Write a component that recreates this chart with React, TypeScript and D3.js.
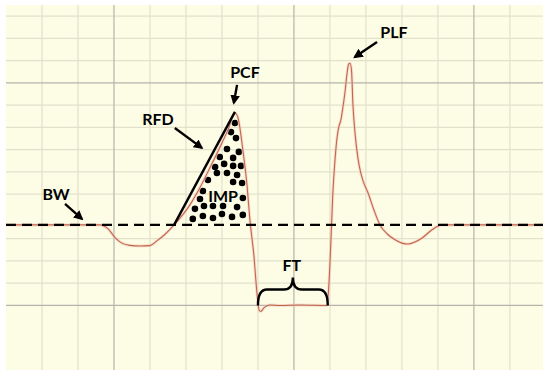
import React from 'react';
import * as d3 from 'd3';

// force-time trace, x in grid units (time), y in grid units (force)
const time = [0, 2.61, 2.83, 3.03, 3.22, 3.44, 3.72, 4.0, 4.19, 4.42, 4.67, 5.11, 5.39, 5.67, 5.94, 6.17, 6.36, 6.44, 6.58, 6.69, 6.78, 6.89, 6.97, 7.03, 7.08, 7.17, 7.33, 7.61, 8.17, 8.92, 8.97, 9.03, 9.08, 9.13, 9.19, 9.25, 9.3, 9.36, 9.42, 9.47, 9.52, 9.56, 9.6, 9.64, 9.7, 9.78, 9.85, 9.92, 10.06, 10.22, 10.39, 10.6, 10.81, 11.0, 11.17, 11.36, 11.56, 11.83, 12.11, 14.92];
const force = [3.62, 3.62, 3.45, 3.05, 2.8, 2.7, 2.67, 2.69, 2.9, 3.2, 3.62, 4.52, 5.3, 6.2, 7.1, 7.9, 8.65, 8.47, 7.0, 5.5, 3.8, 2.2, 0.6, -0.2, -0.27, -0.1, 0.02, 0, 0.02, 0, 0.9, 3.0, 5.0, 6.3, 7.43, 8.05, 8.3, 8.9, 9.6, 10.35, 10.85, 10.88, 10.55, 9.0, 7.7, 6.6, 6.0, 5.6, 5.05, 4.3, 3.62, 3.2, 2.95, 2.8, 2.76, 2.85, 3.03, 3.39, 3.62, 3.62];

const bodyWeight = 3.62;
const rfdLine = [[4.67, 3.62], [6.36, 8.7]];

// impulse dots
const dotX = [6.36, 6.25, 6.39, 6.14, 6.47, 5.94, 6.31, 5.81, 6.06, 6.31, 6.53, 5.61, 5.86, 6.14, 6.42, 6.31, 6.56, 5.47, 5.39, 6.58, 5.25, 5.5, 5.75, 6.03, 6.42, 5.19, 5.47, 5.75, 6.0, 6.28, 6.58];
const dotY = [8.2, 7.79, 7.52, 7.03, 6.9, 6.67, 6.63, 6.22, 6.36, 6.27, 6.27, 5.64, 5.95, 5.95, 5.86, 5.55, 5.5, 5.14, 4.78, 4.83, 4.34, 4.47, 4.47, 4.47, 4.42, 3.89, 4.02, 3.93, 4.11, 3.98, 4.07];

const vGrid = [1, 2, 3, 4, 5, 6, 7, 8, 9, 10, 11, 12, 13, 14];
const vMajor = [3, 8, 13];
const hGrid = [0, 1, 2, 3, 5, 6, 7, 8, 9, 10, 11, 12, 13];
const hMajor = [0, 10];

const labels = [
  { text: 'BW', x: 1.39, y: 5.05 },
  { text: 'RFD', x: 4.22, y: 8.38 },
  { text: 'PCF', x: 6.64, y: 10.53 },
  { text: 'PLF', x: 10.78, y: 12.33 },
  { text: 'IMP', x: 6.03, y: 4.92 },
  { text: 'FT', x: 7.94, y: 1.82 },
];
const arrows = [
  { from: [1.64, 4.56], to: [2.11, 3.89] },
  { from: [4.69, 7.97], to: [5.44, 7.08] },
  { from: [6.42, 9.91], to: [6.33, 9.1] },
  { from: [10.31, 11.84], to: [9.69, 11.16] },
];
const flight = { x1: 7.0, x2: 8.94, base: 0, top: 0.72, tip: 1.26 };

const W = 550;
const H = 376;

const App = () => {
  const x = d3.scaleLinear().domain([0, 14.92]).range([6, 543]);
  const y = d3.scaleLinear().domain([-2.9, 13.5]).range([370, 5]);

  const pts = time.map((t, i) => [t, force[i]] as [number, number]);
  const line = d3.line<[number, number]>().x(d => x(d[0])).y(d => y(d[1])).curve(d3.curveMonotoneX);

  // curly brace for flight time
  const bx1 = x(flight.x1), bx2 = x(flight.x2), bm = (bx1 + bx2) / 2;
  const by0 = y(flight.base), byT = y(flight.top), byTip = y(flight.tip);
  const r = 9;
  const brace = `M${bx1},${by0} Q${bx1},${byT} ${bx1 + r},${byT} L${bm - r},${byT} Q${bm},${byT} ${bm},${byTip} Q${bm},${byT} ${bm + r},${byT} L${bx2 - r},${byT} Q${bx2},${byT} ${bx2},${by0}`;

  return (
    <svg width={W} height={H} style={{ position: 'absolute', left: 0, top: 0, background: '#fff' }}>
      <defs>
        <marker id="head" viewBox="0 0 10 10" refX="8" refY="5" markerWidth="4" markerHeight="4" orient="auto">
          <path d="M0,0 L10,5 L0,10 z" fill="#000" />
        </marker>
      </defs>
      <rect x={x(0)} y={y(13.5)} width={x(14.92) - x(0)} height={y(-2.9) - y(13.5)} fill="#fdfde6" />
      {vGrid.filter(v => !vMajor.includes(v)).map(v => (
        <line key={'v' + v} x1={x(v)} x2={x(v)} y1={y(13.5)} y2={y(-2.9)} stroke="#e2e2cc" strokeWidth={1.2} />
      ))}
      {hGrid.filter(v => !hMajor.includes(v)).map(v => (
        <line key={'h' + v} x1={x(0)} x2={x(14.92)} y1={y(v)} y2={y(v)} stroke="#e2e2cc" strokeWidth={1.2} />
      ))}
      {vMajor.map(v => (
        <line key={'vm' + v} x1={x(v)} x2={x(v)} y1={y(13.5)} y2={y(-2.9)} stroke="#b4b4aa" strokeWidth={1.2} />
      ))}
      {hMajor.map(v => (
        <line key={'hm' + v} x1={x(0)} x2={x(14.92)} y1={y(v)} y2={y(v)} stroke="#b4b4aa" strokeWidth={1.2} />
      ))}

      {dotX.map((dx, i) => (
        <circle key={'d' + i} cx={x(dx)} cy={y(dotY[i])} r={3.3} fill="#000" />
      ))}

      <path d={line(pts) || ''} fill="none" stroke="#f5c8c0" strokeWidth={3} opacity={0.6} />
      <path d={line(pts) || ''} fill="none" stroke="#c0684a" strokeWidth={1.1} />

      <line x1={x(0)} x2={x(14.92)} y1={y(bodyWeight)} y2={y(bodyWeight)} stroke="#000" strokeWidth={2.4} strokeDasharray="10,6" />
      <line x1={x(rfdLine[0][0])} y1={y(rfdLine[0][1])} x2={x(rfdLine[1][0])} y2={y(rfdLine[1][1])} stroke="#000" strokeWidth={2.4} />

      <path d={brace} fill="none" stroke="#000" strokeWidth={2.4} />

      {arrows.map((a, i) => (
        <line key={'a' + i} x1={x(a.from[0])} y1={y(a.from[1])} x2={x(a.to[0])} y2={y(a.to[1])} stroke="#000" strokeWidth={2.4} markerEnd="url(#head)" />
      ))}
      {labels.map(l => (
        <text key={l.text} x={x(l.x)} y={y(l.y)} textAnchor="middle" dominantBaseline="central" fontFamily="Lato, sans-serif" fontWeight="bold" fontSize={16} fill="#000">
          {l.text}
        </text>
      ))}
    </svg>
  );
};

export default App;
